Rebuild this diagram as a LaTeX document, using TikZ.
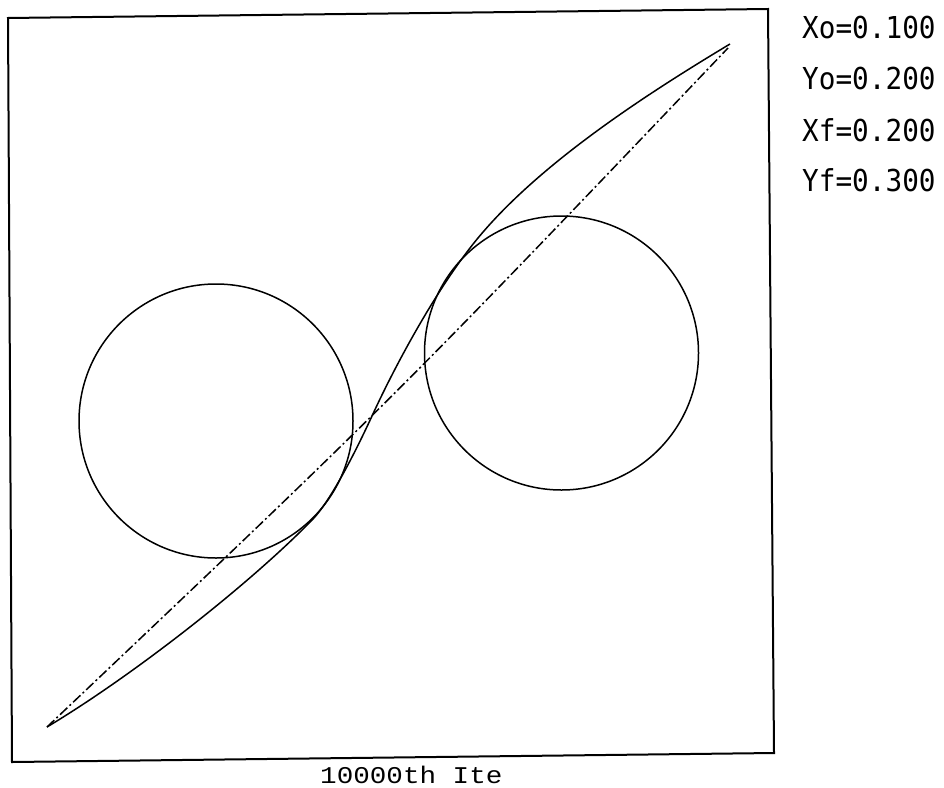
\documentclass[tikz,border=0pt]{standalone}
\usepackage{fontspec}
\newfontfamily\plotfont{DejaVu Sans Mono}
\newfontfamily\itefont{Liberation Mono}
\tikzset{epais/.style={line width=1.5pt}}
\newcommand{\obstacle}[1]{\draw[epais] (#1) circle [radius=137pt]}
\newcommand{\param}[3]{\node[param] (#1) at (802,#2) {#3}}

\begin{document}
\begin{tikzpicture}[x=1pt,y=-1pt,
	param/.style={anchor=base west,inner sep=0pt,yscale=1.09,
		font=\plotfont\fontsize{27.7}{30}\selectfont}]
\useasboundingbox (0,0) rectangle (944,787);
%Frame
	\draw[line width=2pt] (8,18) -- (768,9) -- (774,753) -- (12,762) -- cycle;
%Obstacles
	\obstacle{216,421};
	\obstacle{561.5,353};
%Straight path
	\draw[epais, dash pattern=on 10pt off 3pt on 2pt off 3pt]
		(47,727) .. controls (395,397) .. (728,48);
%The trajectory
	\draw[epais] (47,727) .. controls (137,673) and (253,581) .. (313,519)
		.. controls (333,498) and (360,442) .. (372,416)
		.. controls (394,368) and (432,297) .. (470,248)
		.. controls (530,170) and (640,98) .. (730,44);
%Parameters
	\param{xo}{38.5}{Xo=0.100};
	\param{yo}{89.5}{Yo=0.200};
	\param{xf}{141}{Xf=0.200};
	\param{yf}{191.5}{Yf=0.300};
%Iteration count
	\node[anchor=base west, inner sep=0pt, xscale=1.15,
		font=\itefont\fontsize{24}{26}\selectfont] (ite) at (320,783) {10000th Ite};
\end{tikzpicture}
\end{document}
